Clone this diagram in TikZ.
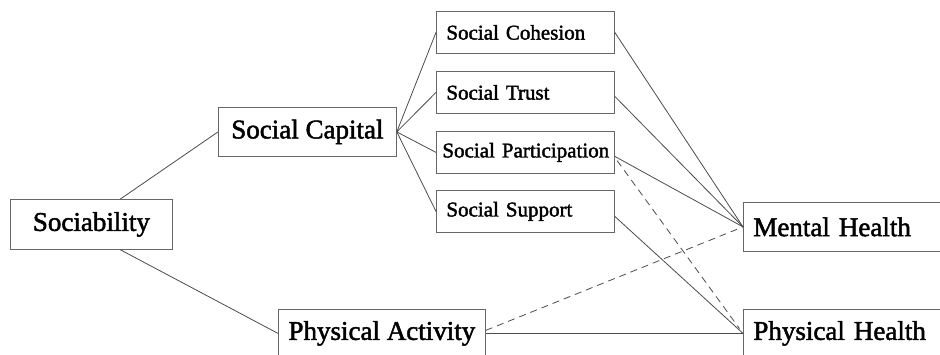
\documentclass[tikz,border=0pt]{standalone}
\usepackage{fontspec}
\setmainfont{Liberation Serif}[FakeBold=1.8]
\begin{document}
\begin{tikzpicture}[x=1pt,y=-1pt,
  box/.style={draw=black!60, line width=0.8pt, rectangle, anchor=north west, inner ysep=0pt},
  big/.style={box, font=\fontsize{27}{30}\selectfont},
  small/.style={box, font=\fontsize{21}{24}\selectfont, align=left, inner xsep=10pt, text width=158pt, minimum height=42pt},
  link/.style={draw=black!70, line width=0.8pt},
  dlink/.style={link, dash pattern=on 7pt off 5pt}]
\clip (0,0) rectangle (940,355);
\useasboundingbox (0,0) rectangle (940,355);
\fill[white] (0,0) rectangle (940,355);

\node[big, minimum width=162pt, minimum height=50pt] (soc) at (10,199) {Sociability};
\node[big, minimum width=178pt, minimum height=49pt] (cap) at (218,107) {Social Capital};
\node[big, minimum width=207pt, minimum height=48pt] (pa) at (278,309) {Physical Activity};

\node[small] (coh) at (436,11) {\mbox{Social Cohesion}};
\node[small] (tru) at (436,71) {\mbox{Social Trust}};
\node[small, inner xsep=6pt, text width=166pt] (par) at (436,131) {\mbox{Social Participation}};
\node[small] (sup) at (436,190) {\mbox{Social Support}};

\node[big, align=left, inner xsep=10pt, text width=210pt, minimum height=49pt] (mh) at (743,202) {\mbox{Mental Health}};
\node[big, align=left, inner xsep=10pt, text width=210pt, minimum height=48pt] (ph) at (743,309) {\mbox{Physical Health}};

\draw[link] ([xshift=29pt]soc.north) -- (cap.west);
\draw[link] ([xshift=29pt]soc.south) -- (pa.west);

\draw[link] (cap.east) -- (coh.west);
\draw[link] (cap.east) -- (tru.west);
\draw[link] (cap.east) -- (par.west);
\draw[link] (cap.east) -- (sup.west);

\draw[link] (coh.east) -- (mh.west);
\draw[link] ([yshift=-4pt]tru.east) -- (mh.west);
\draw[link] ([yshift=-4pt]par.east) -- (mh.west);
\draw[link] ([yshift=-5pt]sup.east) -- (ph.west);
\draw[dlink, shorten <=4pt, shorten >=6pt] ([yshift=-5pt]par.east) -- (ph.west);

\draw[dlink] ([yshift=3pt]pa.east) -- (mh.west);
\draw[link] (pa.east) -- (ph.west);
\end{tikzpicture}
\end{document}
